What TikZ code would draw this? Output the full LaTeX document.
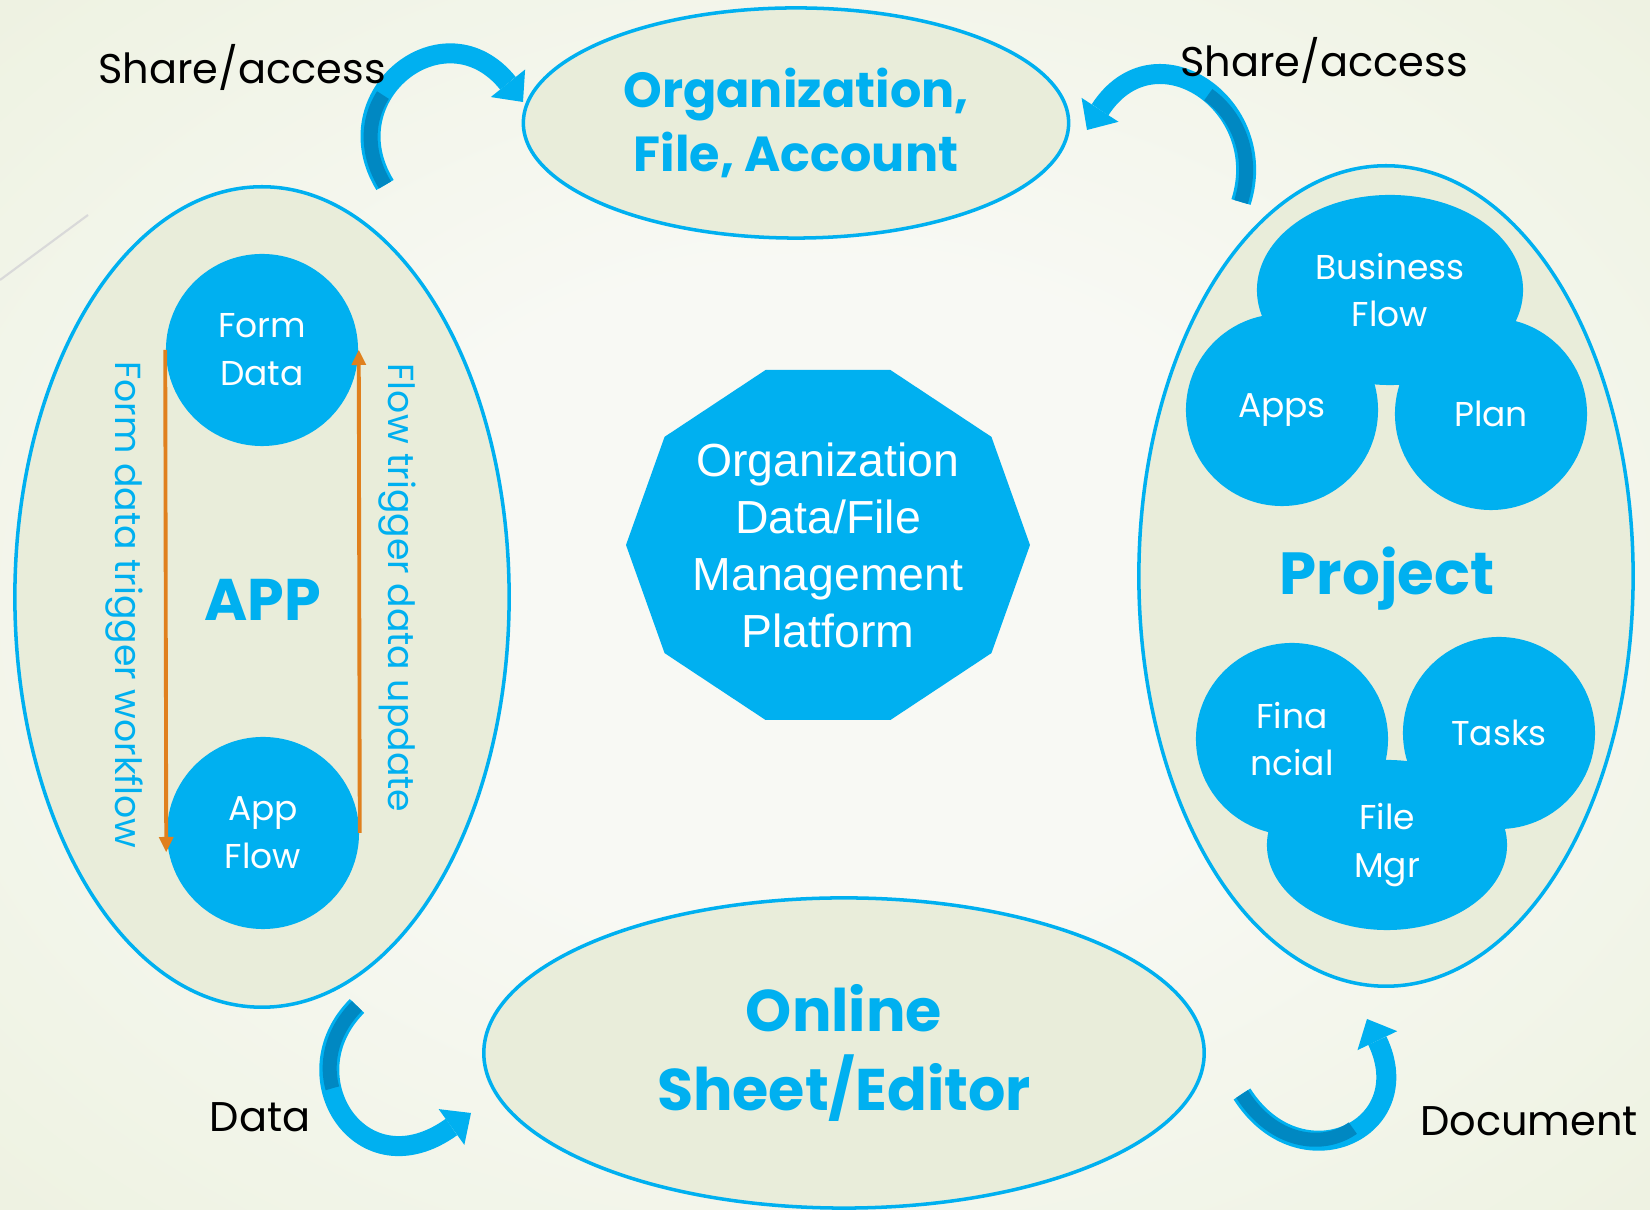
\documentclass[tikz,border=0pt]{standalone}
\usepackage{fontspec}
\setmainfont{Poppins}
\newfontfamily\platformfont{Liberation Sans}
\usetikzlibrary{positioning,shapes.geometric,arrows.meta}

\definecolor{cyanblue}{HTML}{00B0F0}
\definecolor{darkblue}{HTML}{0088C2}
\definecolor{paleolive}{HTML}{E9EDDA}
\definecolor{bginner}{HTML}{F8F9F4}
\definecolor{bgouter}{HTML}{E7EDD5}
\definecolor{flowline}{HTML}{E0801E}

\pgfdeclareradialshading{bgshade}{\pgfpoint{0bp}{0bp}}{%
  color(0bp)=(bginner); color(14bp)=(bginner); color(50bp)=(bgouter); color(72bp)=(bgouter)}

\begin{document}
\begin{tikzpicture}[x=0.01cm, y=-0.01cm,
    bubble/.style={draw=cyanblue, line width=1pt, fill=paleolive, ellipse, inner sep=0pt},
    disc/.style={fill=cyanblue, circle, minimum size=1.92cm, inner sep=0pt},
    blob/.style={fill=cyanblue, ellipse, inner sep=0pt},
    whitetext/.style={text=white, align=center, font=\fontsize{9.8}{13.6}\selectfont},
    headline/.style={text=cyanblue, align=center, font=\bfseries\fontsize{14}{18}\selectfont},
    note/.style={text=black, font=\fontsize{11.8}{14}\selectfont},
    sidetext/.style={text=cyanblue, rotate=-90, font=\fontsize{10.3}{12}\selectfont},
    flow/.style={draw=flowline, line width=1.1pt, -{Triangle[width=0.15cm,length=0.15cm,line width=0pt]}},
    swoosh/.style={cyanblue, line width=0.2cm, -{Triangle[width=0.44cm,length=0.24cm,line width=0pt]}},
    swooshback/.style={darkblue, line width=0.14cm}
]

% Background
\useasboundingbox (0,0) rectangle (1650,1210);
\shade[shading=bgshade] (0,0) rectangle (1650,1210);
\draw[black!15, line width=0.6pt] (0,280) -- (88,215);

% Containers
\node[bubble, headline, minimum width=5.45cm, minimum height=2.30cm] (org) at (796,123) {Organization,\\File, Account};
\node[bubble, minimum width=4.94cm, minimum height=8.20cm] (app) at (262,597) {};
\node[bubble, minimum width=4.94cm, minimum height=8.20cm] (project) at (1386,576) {};
\node[bubble, headline, font=\bfseries\fontsize{16.7}{22.2}\selectfont,
      minimum width=7.20cm, minimum height=3.10cm] (sheet) at (844,1053) {Online\\Sheet/Editor};

% Platform
\coordinate (hub) at (828,545);
\fill[cyanblue] ([shift={(0:202 and 184)}]hub)
    \foreach \a in {36,72,...,324} { -- ([shift={(\a:202 and 184)}]hub) } -- cycle;
\node[text=white, align=center, font=\platformfont\fontsize{13.2}{16.2}\selectfont] (platform) at (hub)
    {Organization\\Data/File\\Management\\Platform};

% APP
\node[disc, whitetext] (formdata) at (262,350) {Form\\Data};
\node[disc, whitetext] (appflow) at (263,833) {App\\Flow};
\node[headline, font=\bfseries\fontsize{16.7}{20}\selectfont] (apptitle) at (263,600) {APP};
\draw[flow] (formdata.west) -- ([yshift=-0.19cm]appflow.west);
\draw[flow] (appflow.east) -- (formdata.east);
\node[sidetext] (trigwf) at (124,605) {Form data trigger workflow};
\node[sidetext] (trigupd) at (397,588) {Flow trigger data update};

% Project
\node[blob, minimum width=2.66cm, minimum height=1.90cm] (bizflow) at (1390,290) {};
\node[disc] (apps) at (1282,410) {};
\node[disc] (plan) at (1491,414) {};
\node[blob, minimum width=2.40cm, minimum height=1.70cm] (filemgr) at (1387,845) {};
\node[disc] (financial) at (1292,739) {};
\node[disc] (tasks) at (1499,733) {};
\node[whitetext] (bizflowtext) at (bizflow) {Business\\Flow};
\node[whitetext] (appstext) at (apps) {Apps};
\node[whitetext] (plantext) at (plan) {Plan};
\node[whitetext] (fintext) at (financial) {Fina\\ncial};
\node[whitetext] (taskstext) at (tasks) {Tasks};
\node[whitetext] (filetext) at (filemgr) {File\\Mgr};
\node[headline, font=\bfseries\fontsize{16.9}{20}\selectfont] (projtitle) at (1387,579) {Project};

% Curved arrows
\coordinate (shlfrom) at (385,185); \coordinate (shlto) at (523,102);
\draw[swoosh] (shlfrom) .. controls (330,95) and (445,5) .. (shlto);
\draw[swooshback, dash pattern=on 0.95cm off 20cm] (shlfrom) .. controls (330,95) and (445,5) .. (shlto);

\coordinate (shrfrom) at (1241,202); \coordinate (shrto) at (1087,130);
\draw[swoosh] (shrfrom) .. controls (1272,105) and (1155,25) .. (shrto);
\draw[swooshback, dash pattern=on 1.2cm off 20cm] (shrfrom) .. controls (1272,105) and (1155,25) .. (shrto);

\coordinate (datfrom) at (357,1006); \coordinate (datto) at (471,1113);
\draw[swoosh] (datfrom) .. controls (287,1076) and (361,1192) .. (datto);
\draw[swooshback, dash pattern=on 0.9cm off 20cm] (datfrom) .. controls (287,1076) and (361,1192) .. (datto);

\coordinate (docfrom) at (1242,1094); \coordinate (docto) at (1367,1019);
\draw[swoosh] (docfrom) .. controls (1300,1185) and (1420,1130) .. (docto);
\draw[swooshback, dash pattern=on 1.3cm off 20cm] (docfrom) .. controls (1300,1185) and (1420,1130) .. (docto);

% Labels
\node[note] (shareleft) at (242,67) {Share/access};
\node[note] (shareright) at (1324,60) {Share/access};
\node[note] (datalabel) at (260,1117) {Data};
\node[note] (doclabel) at (1529,1121) {Document};

\end{tikzpicture}
\end{document}
